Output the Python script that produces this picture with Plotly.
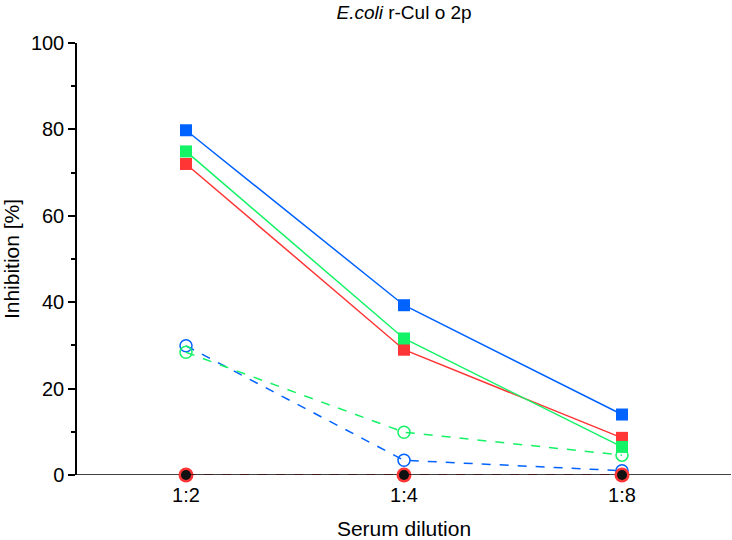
import plotly.graph_objects as go

categories = ["1:2", "1:4", "1:8"]
blue_sq = [79.8, 39.3, 14.0]
green_sq = [74.9, 31.6, 6.5]
red_sq = [72.0, 29.0, 8.6]
blue_circ = [29.9, 3.4, 1.0]
green_circ = [28.4, 9.9, 4.6]
red_zero = [0, 0, 0]
black_zero = [0, 0, 0]

BLUE = "#0062ff"
GREEN = "#14f266"
RED = "#ff3535"

fig = go.Figure()

def add(y, color, symbol, size, dash, width=1.5, mline=None):
    fig.add_trace(go.Scatter(
        x=categories, y=y, mode="lines+markers",
        line=dict(color=color, width=width, dash=dash),
        marker=dict(symbol=symbol, size=size, color=color,
                    line=dict(color=color, width=mline if mline else 0)),
        cliponaxis=False, showlegend=False))

add(blue_circ, BLUE, "circle-open", 12, "dash", mline=1.5)
add(green_circ, GREEN, "circle-open", 12, "dash", mline=1.5)
add(red_sq, RED, "square", 12, "solid")
add(green_sq, GREEN, "square", 12, "solid")
add(blue_sq, BLUE, "square", 12, "solid")
add(red_zero, RED, "circle", 15, "dash")
add(black_zero, "#111111", "circle", 10, "dash")

fig.update_layout(
    width=732, height=540,
    margin=dict(l=77, r=1, t=43, b=65),
    plot_bgcolor="white", paper_bgcolor="white",
    font=dict(family="Liberation Sans, Arial, sans-serif", color="black"),
    title=dict(text="<i>E.coli</i> r-Cul o 2p", x=0.552, xanchor="center",
               y=0.978, yanchor="middle", font=dict(size=19)),
)
fig.update_xaxes(
    type="category", range=[-0.5, 2.5],
    showline=False, ticks="", showgrid=False, zeroline=False,
    tickfont=dict(size=20), ticklabelstandoff=6,
    title=dict(text="Serum dilution", font=dict(size=21), standoff=17),
)
fig.update_yaxes(
    range=[0, 100], tickvals=[0, 20, 40, 60, 80, 100],
    showline=True, linecolor="black", linewidth=1.5,
    ticks="outside", ticklen=7, tickwidth=1.5, tickcolor="black",
    minor=dict(tickvals=[10, 30, 50, 70, 90], ticks="outside", ticklen=4,
               tickwidth=1.5, tickcolor="black"),
    showgrid=False, zeroline=False,
    tickfont=dict(size=20),
    title=dict(text="Inhibition [%]", font=dict(size=21), standoff=8),
)
# baseline at y = 0 across the full plot width
fig.add_shape(type="line", xref="paper", yref="y", x0=0, x1=1, y0=0, y1=0,
              line=dict(color="black", width=1.5), layer="below")

fig.write_html("out.html")
